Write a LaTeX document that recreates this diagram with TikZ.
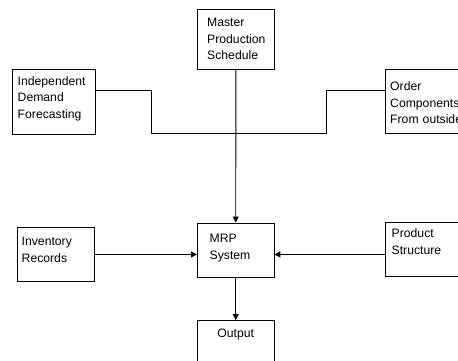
\documentclass[tikz,border=0pt]{standalone}
\usepackage{fontspec}
\setmainfont{Liberation Sans}
\usetikzlibrary{arrows.meta}

\tikzset{
  box/.style={draw=black, line width=0.9pt, anchor=north west, inner sep=0pt},
  txt/.style={anchor=base west, align=left, text width=90pt, inner sep=0pt,
    font=\fontsize{12.2}{16.7}\selectfont},
  flow/.style={line width=0.9pt, -{Triangle[length=6pt,width=6pt]}},
  link/.style={line width=0.9pt},
}

\begin{document}
\begin{tikzpicture}[x=1pt,y=-1pt]
  \useasboundingbox (0,0) rectangle (458,360);
  \clip (0,0) rectangle (458,360);

  % input boxes
  \node[box, minimum width=77pt, minimum height=60pt,
    label={[txt,xshift=10pt,yshift=-17.5pt]north west:Master\\Production\\Schedule}]
    (msp) at (197,9) {};
  \node[box, minimum width=82.5pt, minimum height=65pt,
    label={[txt,xshift=5.5pt,yshift=-16.5pt]north west:Independent\\Demand\\Forecasting}]
    (idf) at (12,68.5) {};
  \node[box, minimum width=80pt, minimum height=64pt,
    label={[txt,xshift=5.5pt,yshift=-21.5pt]north west:Order\\Components\\From outside}]
    (ocf) at (384.5,69) {};
  \node[box, minimum width=77pt, minimum height=54pt,
    label={[txt,xshift=4.5pt,yshift=-18.5pt]north west:Inventory\\Records}]
    (inv) at (17,227) {};
  \node[box, minimum width=80pt, minimum height=54pt,
    label={[txt,xshift=6.5pt,yshift=-15.3pt]north west:Product\\Structure}]
    (prs) at (385,222) {};

  % mrp and output
  \node[box, minimum width=76.5pt, minimum height=54pt,
    label={[txt,xshift=12.5pt,yshift=-19.8pt]north west:MRP\\System}]
    (mrp) at (197,222.5) {};
  \node[box, minimum width=76.5pt, minimum height=60pt,
    label={[anchor=base,yshift=-17pt,inner sep=0pt,font=\fontsize{12.2}{16.7}\selectfont]north:Output}]
    (out) at (197,320) {};

  % bus
  \coordinate (jl) at (151,133.3);
  \coordinate (jr) at (326,133.3);
  \draw[link] (idf.east |- 0,90) -- (jl |- 0,90) -- (jl) -- (jr)
    -- (jr |- 0,90.7) -- (ocf.west |- 0,90.7);

  \draw[flow] (msp) -- (mrp);
  \draw[flow] (inv.east) -- (inv.east -| mrp.west);
  \draw[flow] (prs.west |- inv.east) -- (mrp.east |- inv.east);
  \draw[flow] (mrp) -- (out);
\end{tikzpicture}
\end{document}
